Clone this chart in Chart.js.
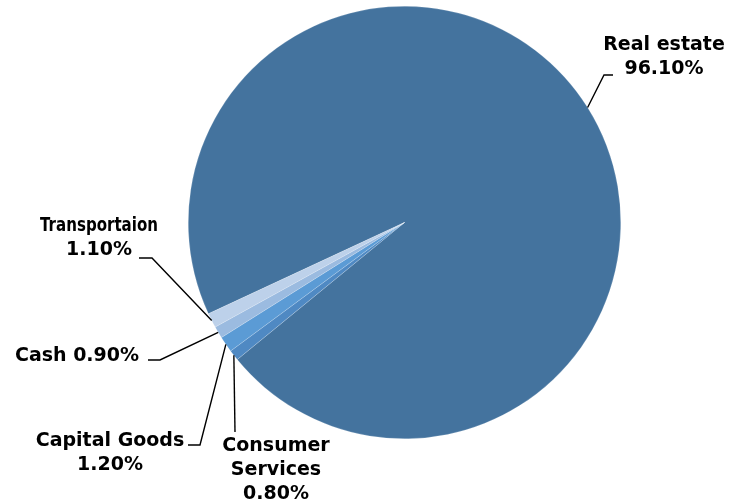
<!DOCTYPE html>
<html>
<head>
<meta charset="utf-8">
<script src="https://cdn.jsdelivr.net/npm/chart.js@4"></script>
<style>
  html, body { margin: 0; padding: 0; background: #fff; }
  #wrap { width: 740px; height: 504px; position: relative; }
</style>
</head>
<body>
<div id="wrap"><canvas id="myChart"></canvas></div>
<script>
// data
const categories = ['Real estate', 'Consumer Services', 'Capital Goods', 'Cash', 'Transportaion'];
const shares = [96.1, 0.8, 1.2, 0.9, 1.1];
const sliceColors = ['#44739e', '#4f89c3', '#5b9bd5', '#9bbbe0', '#bdd1ea'];

// where each label sits (mode: how text wraps)
const labelLayout = [
    { mode: 'name-value', x: 664, y: 50, elbow: [[604, 75], [613, 75]] },
    { mode: 'words', x: 276, y: 451, elbow: [[235, 432]] },
    { mode: 'name-value', x: 110, y: 446, elbow: [[200, 445], [188, 445]] },
    { mode: 'inline', x: 77, y: 361, elbow: [[160, 360], [148, 360]] },
    { mode: 'name-value', x: 99, y: 231, elbow: [[152, 258], [139, 258]], squeeze: 118 }
];

function labelLines(i) {
    const pct = shares[i].toFixed(2) + '%';
    const mode = labelLayout[i].mode;
    if (mode === 'inline') return [categories[i] + ' ' + pct];
    if (mode === 'words') return categories[i].split(' ').concat([pct]);
    return [categories[i], pct];
}

const outsideLabels = {
    id: 'outsideLabels',
    afterDraw(chart) {
        const ctx = chart.ctx;
        const arcs = chart.getDatasetMeta(0).data;
        ctx.save();
        ctx.strokeStyle = '#000';
        ctx.lineWidth = 1.4;
        ctx.fillStyle = '#000';
        ctx.font = 'bold 19px "DejaVu Sans", sans-serif';
        ctx.textAlign = 'center';
        ctx.textBaseline = 'alphabetic';
        arcs.forEach(function(arc, i) {
            const p = arc.getProps(['x', 'y', 'startAngle', 'endAngle', 'outerRadius'], true);
            const mid = (p.startAngle + p.endAngle) / 2;
            const sx = p.x + Math.cos(mid) * p.outerRadius;
            const sy = p.y + Math.sin(mid) * p.outerRadius;
            const lay = labelLayout[i];
            ctx.beginPath();
            ctx.moveTo(sx, sy);
            lay.elbow.forEach(function(pt) { ctx.lineTo(pt[0], pt[1]); });
            ctx.stroke();
            labelLines(i).forEach(function(line, k) {
                if (lay.squeeze && k === 0) {
                    ctx.fillText(line, lay.x, lay.y + k * 24, lay.squeeze);
                } else {
                    ctx.fillText(line, lay.x, lay.y + k * 24);
                }
            });
        });
        ctx.restore();
    }
};

const ctx = document.getElementById('myChart').getContext('2d');
window.myChart = new Chart(ctx, {
    type: 'pie',
    data: {
        labels: categories,
        datasets: [{
            data: shares,
            backgroundColor: sliceColors,
            borderColor: 'rgba(255,255,255,0.35)',
            borderWidth: 0.5
        }]
    },
    options: {
        responsive: true,
        maintainAspectRatio: false,
        animation: false,
        rotation: 245.05,
        layout: { padding: { left: 188, right: 119, top: 6, bottom: 65 } },
        plugins: {
            legend: { display: false },
            tooltip: { enabled: false }
        }
    },
    plugins: [outsideLabels]
});
</script>
</body>
</html>
